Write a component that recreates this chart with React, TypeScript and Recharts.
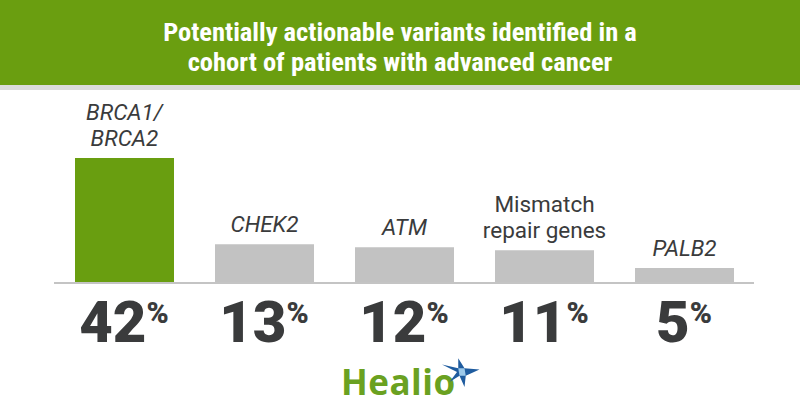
import React from 'react';
import { BarChart, Bar, XAxis, YAxis, Cell, LabelList } from 'recharts';

const categories = ['BRCA1/BRCA2', 'CHEK2', 'ATM', 'Mismatch repair genes', 'PALB2'];
const labelLines = [['BRCA1/', 'BRCA2'], ['CHEK2'], ['ATM'], ['Mismatch', 'repair genes'], ['PALB2']];
const italicLabel = [true, true, true, false, true];
const values = [42, 13, 12, 11, 5];
const barColors = ['#699e10', '#c2c2c2', '#c2c2c2', '#c2c2c2', '#c2c2c2'];

const title = ['Potentially actionable variants identified in a', 'cohort of patients with advanced cancer'];

const data = categories.map((name, i) => ({ name, value: values[i] }));

const FONT = 'Roboto, "Noto Sans", sans-serif';
const TEXT = '#3a3b3c';

const PercentTick: React.FC<any> = ({ x, y, payload }) => {
    const idx = categories.indexOf(payload.value);
    return (
        <text x={x} y={y + 51} textAnchor="middle" fill={TEXT} fontFamily={FONT} fontWeight={900}>
            <tspan fontSize={58}>{values[idx]}</tspan>
            <tspan fontSize={30} dy={-19}>%</tspan>
        </text>
    );
};

const BarLabel: React.FC<any> = ({ x, y, width, index }) => {
    const lines = labelLines[index];
    const cx = x + width / 2;
    const lastBase = y - 12;
    return (
        <text
            x={cx}
            textAnchor="middle"
            fill={TEXT}
            fontFamily={FONT}
            fontSize={22.5}
            fontStyle={italicLabel[index] ? 'italic' : 'normal'}
        >
            {lines.map((ln, k) => (
                <tspan key={k} x={cx} y={lastBase - (lines.length - 1 - k) * 26}>{ln}</tspan>
            ))}
        </text>
    );
};

// logo mark, decorative only
const Logo: React.FC = () => (
    <svg width={800} height={420} style={{ position: 'absolute', left: 0, top: 0, pointerEvents: 'none' }}>
        <text x={341} y={395} fill="#6aa121" fontFamily='"Open Sans", Lato, sans-serif' fontWeight={700} fontSize={35} letterSpacing={0.5}>
            Healio
        </text>
        <g transform="translate(462,372) scale(1.25)">
            <polygon points="-16,-6 -3,-3 -3,-11 2,-3 14,-2 3,3 2,12 -2,3 -10,8 -4,0" fill="#1f5c9f" />
            <polygon points="-3,-3 2,-3 3,3 -2,3" fill="#9cc9ea" />
        </g>
    </svg>
);

export default function App() {
    return (
        <div style={{ position: 'absolute', left: 0, top: 0, width: 800, height: 420, background: '#fff', overflow: 'hidden' }}>
            <div
                style={{
                    position: 'absolute',
                    left: 0,
                    top: 0,
                    width: 800,
                    height: 90,
                    background: '#6a9e10',
                    borderBottom: '5px solid #dcdcdc',
                    color: '#fff',
                    fontFamily: '"Roboto Condensed", "Liberation Sans Narrow", "DejaVu Sans Condensed", sans-serif',
                    fontStretch: 'condensed',
                    fontWeight: 700,
                    fontSize: 26.5,
                    lineHeight: '30px',
                    textAlign: 'center',
                    paddingTop: 17,
                    boxSizing: 'border-box',
                }}
            >
                {title.map((t, i) => (
                    <div key={i}>{t}</div>
                ))}
            </div>
            <BarChart
                width={800}
                height={420}
                data={data}
                margin={{ top: 158, right: 46, bottom: 0, left: 54 }}
                style={{ position: 'absolute', left: 0, top: 0 }}
            >
                <XAxis
                    dataKey="name"
                    axisLine={{ stroke: '#c4c4c4', strokeWidth: 2 }}
                    tickLine={false}
                    tick={<PercentTick />}
                    interval={0}
                    height={137}
                />
                <YAxis hide domain={[0, 42]} />
                <Bar dataKey="value" barSize={99} isAnimationActive={false}>
                    {data.map((d, i) => (
                        <Cell key={d.name} fill={barColors[i]} />
                    ))}
                    <LabelList dataKey="value" content={<BarLabel />} />
                </Bar>
            </BarChart>
            <Logo />
        </div>
    );
}
